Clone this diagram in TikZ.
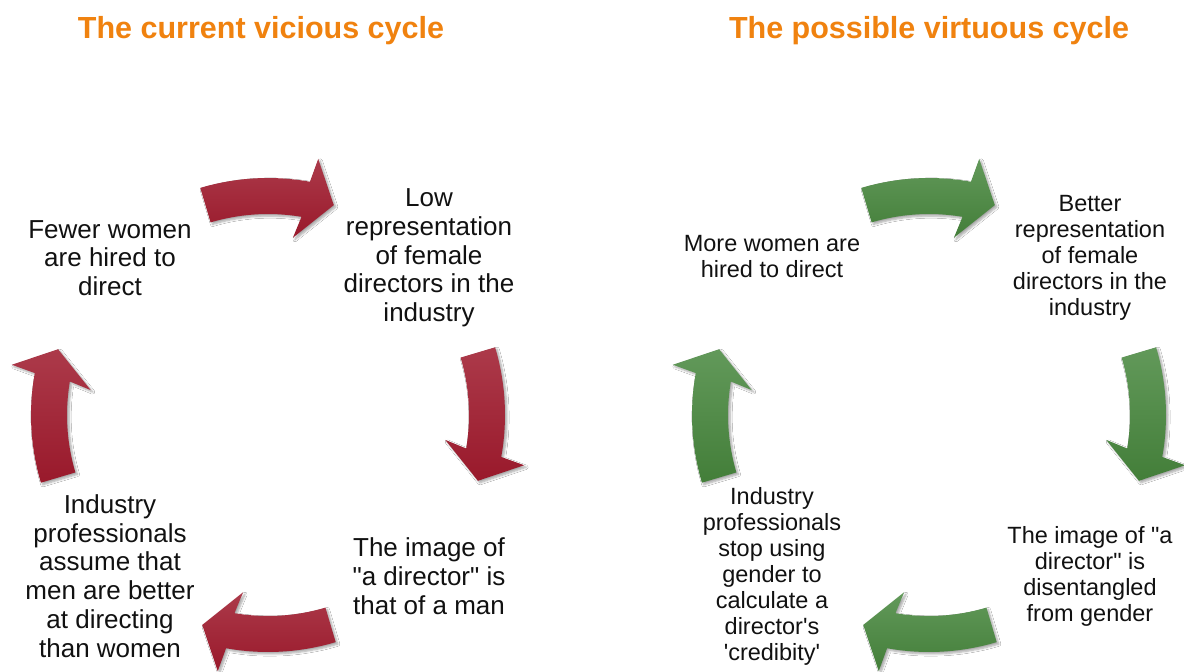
\documentclass[tikz,border=0pt]{standalone}
\usepackage{fontspec}
\setmainfont{Liberation Sans}
\usetikzlibrary{shadows.blur}
\definecolor{ttl}{HTML}{F0820F}
\definecolor{redtop}{HTML}{AC3A4A}
\definecolor{redbot}{HTML}{99192B}
\definecolor{grntop}{HTML}{62995A}
\definecolor{grnbot}{HTML}{437E39}
\definecolor{txt}{HTML}{111111}
\newcommand{\cycarrow}[4]{%
  \begin{scope}[shift={(#1,#2)}]
    \path[#4] plot[domain=#3+253.4:#3+280.2, samples=16] (\x:237)
      -- (#3+281.1:261) -- (#3+287.4:220) -- (#3+278:179) -- (#3+279.6:201)
      -- plot[domain=#3+279.6:#3+253.4, samples=16] (\x:201) -- cycle;
  \end{scope}}
\begin{document}
\begin{tikzpicture}[x=1pt,y=-1pt,
  ttlstyle/.style={text=ttl, font=\fontsize{30.5}{36}\selectfont\bfseries, inner sep=0, anchor=base},
  bodyL/.style={align=center, text=txt, font=\fontsize{26}{28.7}\selectfont, inner sep=0},
  bodyR/.style={align=center, text=txt, font=\fontsize{23.5}{26}\selectfont, inner sep=0},
  redarr/.style={top color=redtop, bottom color=redbot, blur shadow={shadow xshift=2pt, shadow yshift=-2pt, shadow blur steps=6, shadow opacity=35}},
  grnarr/.style={top color=grntop, bottom color=grnbot, blur shadow={shadow xshift=2pt, shadow yshift=-2pt, shadow blur steps=6, shadow opacity=35}}]
\fill[white] (0,0) rectangle (1184,672);
\useasboundingbox (0,0) rectangle (1184,672);

\node[ttlstyle] (t1) at (261,38) {The current vicious cycle};
\node[ttlstyle] (t2) at (929,38) {The possible virtuous cycle};

% left cycle arrows
\cycarrow{268}{415}{0}{redarr}
\cycarrow{268}{415}{90}{redarr}
\cycarrow{268}{415}{180}{redarr}
\cycarrow{268}{415}{270}{redarr}
% right cycle arrows
\cycarrow{929}{415}{0}{grnarr}
\cycarrow{929}{415}{90}{grnarr}
\cycarrow{929}{415}{180}{grnarr}
\cycarrow{929}{415}{270}{grnarr}

\node[bodyL] (l1) at (110,258) {Fewer women\\are hired to\\direct};
\node[bodyL] (l2) at (429,258) {Low\\representation\\of female\\directors in the\\industry};
\node[bodyL] (l3) at (429,576) {The image of\\\textquotedbl a director\textquotedbl\ is\\that of a man};
\node[bodyL] (l4) at (110,576) {Industry\\professionals\\assume that\\men are better\\at directing\\than women};

\node[bodyR] (r1) at (772,257) {More women are\\hired to direct};
\node[bodyR] (r2) at (1090,258) {Better\\representation\\of female\\directors in the\\industry};
\node[bodyR] (r3) at (1090,576) {The image of \textquotedbl a\\director\textquotedbl\ is\\disentangled\\from gender};
\node[bodyR] (r4) at (772,576) {Industry\\professionals\\stop using\\gender to\\calculate a\\director\textquotesingle s\\\textquotesingle credibity\textquotesingle};
\end{tikzpicture}
\end{document}
